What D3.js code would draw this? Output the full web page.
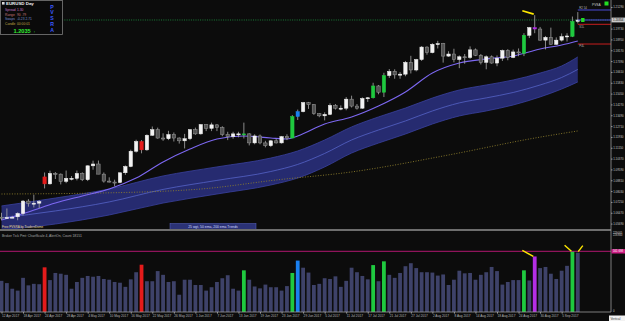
<!DOCTYPE html>
<html>
<head>
<meta charset="utf-8">
<script src="https://cdn.jsdelivr.net/npm/d3@7"></script>
<style>
  body { margin: 0; background: #0c0c0c; }
  svg { display: block; font-family: "Liberation Sans", Arial, sans-serif; }
</style>
</head>
<body>
<script>
// EURUSD Day, 12 Apr 2017 - 8 Sep 2017 (108 bars)
var opens = [1.0615,1.0613,1.0613,1.0618,1.0642,1.0731,1.0715,1.0716,1.0905,1.0855,
  1.0930,1.0925,1.0873,1.0895,1.0895,1.0930,1.0885,1.0985,1.0998,1.0925,
  1.0875,1.0868,1.0865,1.0935,1.0980,1.1090,1.1160,1.1100,1.1205,1.1245,
  1.1185,1.1180,1.1210,1.1185,1.1165,1.1180,1.1245,1.1215,1.1282,1.1255,
  1.1280,1.1260,1.1210,1.1195,1.1215,1.1208,1.1215,1.1150,1.1200,1.1150,
  1.1130,1.1165,1.1150,1.1195,1.1185,1.1340,1.1375,1.1440,1.1425,1.1360,
  1.1345,1.1355,1.1420,1.1400,1.1400,1.1465,1.1415,1.1400,1.1470,1.1475,
  1.1560,1.1515,1.1635,1.1665,1.1640,1.1645,1.1730,1.1675,1.1750,1.1840,
  1.1800,1.1860,1.1865,1.1775,1.1790,1.1750,1.1770,1.1765,1.1820,1.1780,
  1.1730,1.1770,1.1725,1.1760,1.1815,1.1765,1.1805,1.1795,1.1925,1.1980,
  1.1970,1.1890,1.1910,1.1860,1.1890,1.1915,1.1917,1.2025];
var highs = [1.0647,1.0678,1.0625,1.0650,1.0738,1.0745,1.0777,1.0738,1.0937,1.0950,
  1.0940,1.0930,1.0951,1.0911,1.0951,1.0938,1.0988,1.1022,1.1023,1.0937,
  1.0902,1.0885,1.0934,1.0988,1.1101,1.1173,1.1170,1.1212,1.1268,1.1260,
  1.1219,1.1237,1.1225,1.1190,1.1215,1.1250,1.1260,1.1285,1.1284,1.1296,
  1.1285,1.1270,1.1230,1.1230,1.1230,1.1296,1.1220,1.1212,1.1210,1.1165,
  1.1170,1.1180,1.1200,1.1212,1.1350,1.1390,1.1445,1.1445,1.1430,1.1365,
  1.1370,1.1435,1.1430,1.1420,1.1480,1.1490,1.1430,1.1478,1.1480,1.1583,
  1.1567,1.1655,1.1682,1.1680,1.1660,1.1740,1.1777,1.1755,1.1847,1.1845,
  1.1868,1.1885,1.1870,1.1810,1.1828,1.1780,1.1790,1.1845,1.1830,1.1790,
  1.1780,1.1780,1.1780,1.1822,1.1825,1.1822,1.1830,1.1940,1.1985,1.2070,
  1.1985,1.1920,1.1980,1.1910,1.1938,1.1940,1.2060,1.2092];
var lows = [1.0593,1.0603,1.0608,1.0593,1.0628,1.0691,1.0685,1.0680,1.0822,1.0850,
  1.0890,1.0851,1.0860,1.0880,1.0880,1.0875,1.0875,1.0957,1.0925,1.0864,
  1.0865,1.0838,1.0860,1.0920,1.0975,1.1080,1.1075,1.1093,1.1200,1.1180,
  1.1165,1.1170,1.1160,1.1145,1.1110,1.1170,1.1208,1.1210,1.1235,1.1235,
  1.1235,1.1198,1.1170,1.1180,1.1190,1.1182,1.1132,1.1140,1.1140,1.1118,
  1.1120,1.1145,1.1145,1.1170,1.1185,1.1315,1.1370,1.1395,1.1352,1.1335,
  1.1312,1.1350,1.1390,1.1385,1.1385,1.1405,1.1390,1.1395,1.1445,1.1470,
  1.1500,1.1480,1.1618,1.1612,1.1612,1.1630,1.1650,1.1665,1.1740,1.1785,
  1.1795,1.1830,1.1728,1.1770,1.1730,1.1688,1.1720,1.1755,1.1775,1.1715,
  1.1680,1.1720,1.1702,1.1740,1.1745,1.1760,1.1774,1.1775,1.1905,1.1940,
  1.1885,1.1823,1.1857,1.1855,1.1880,1.1880,1.1912,1.2010];
var closes = [1.0613,1.0613,1.0615,1.0642,1.0731,1.0715,1.0716,1.0727,1.0855,1.0930,
  1.0925,1.0873,1.0895,1.0895,1.0930,1.0885,1.0985,1.0998,1.0925,1.0875,
  1.0868,1.0865,1.0935,1.0980,1.1090,1.1160,1.1100,1.1205,1.1245,1.1185,
  1.1180,1.1210,1.1185,1.1165,1.1180,1.1245,1.1215,1.1282,1.1255,1.1280,
  1.1260,1.1210,1.1195,1.1215,1.1215,1.1215,1.1150,1.1200,1.1150,1.1130,
  1.1165,1.1150,1.1195,1.1185,1.1340,1.1375,1.1440,1.1425,1.1360,1.1345,
  1.1355,1.1420,1.1400,1.1400,1.1465,1.1415,1.1400,1.1470,1.1475,1.1560,
  1.1515,1.1635,1.1665,1.1640,1.1645,1.1730,1.1675,1.1750,1.1840,1.1800,
  1.1860,1.1865,1.1775,1.1790,1.1750,1.1770,1.1765,1.1820,1.1780,1.1730,
  1.1770,1.1725,1.1760,1.1815,1.1765,1.1805,1.1800,1.1925,1.1980,1.1970,
  1.1890,1.1910,1.1860,1.1890,1.1915,1.1920,1.2025,1.2035];

// tick volume, thousands
var volumes = [83,77,62,57,91,71,75,74,119,85,
  104,102,99,62,80,91,96,94,96,88,
  86,80,78,67,87,106,126,82,82,109,
  99,80,82,46,86,86,72,72,57,66,
  80,90,98,62,57,111,86,68,63,73,
  66,66,57,69,104,137,118,105,72,75,
  90,88,95,67,83,118,106,96,87,125,
  82,135,99,91,104,122,130,117,106,106,
  105,97,100,72,86,110,103,104,86,99,
  106,120,109,73,80,85,85,111,84,148,
  117,120,102,88,110,123,162,158];

// PVSRA coloured bars (index -> colour)
var pvsraIdx = [8, 26, 45, 54, 55, 69, 71, 97, 99, 106];
var pvsraCol = ["#e41b1b","#e41b1b","#1fc93f","#1fc93f","#1a80f0","#1fc93f","#1fc93f","#1fc93f","#b42ee6","#1fc93f"];

// 25 wgt line, sampled
var maIdx = [0,5,10,15,20,25,30,35,40,45,50,53,55,60,65,70,75,80,85,90,95,100,104,107];
var maVal = [1.0595,1.0653,1.0717,1.0768,1.0818,1.0897,1.1013,1.1106,1.1178,1.1200,1.1185,1.1178,1.1200,
  1.1286,1.1337,1.1416,1.1517,1.1653,1.1725,1.1754,1.1776,1.1826,1.1855,1.1884];

// trend band (50 ema zone), sampled
var bandIdx = [0,10,20,30,40,50,55,60,65,70,75,80,85,90,95,100,104,107];
var bandTop = [1.0696,1.0753,1.0818,1.0912,1.0977,1.1041,1.1092,1.1171,1.1265,1.1337,1.1401,1.1473,1.1531,1.1567,1.1603,1.1653,1.1704,1.1769];
var bandBot = [1.0523,1.0566,1.0631,1.0717,1.0782,1.0847,1.0897,1.0977,1.1077,1.1149,1.1214,1.1286,1.1344,1.1380,1.1423,1.1481,1.1538,1.1589];
var bandMid = [1.0610,1.0660,1.0725,1.0815,1.0880,1.0944,1.0995,1.1074,1.1171,1.1243,1.1308,1.1380,1.1438,1.1474,1.1513,1.1567,1.1621,1.1679];

// 200 ema, sampled
var emaIdx = [0,18,37,51,65,83,99,107];
var emaVal = [1.0782,1.0789,1.0818,1.0883,1.0941,1.1063,1.1185,1.1236];

// 1.20510 sits under the current-price box, so it is left out
var priceTicks = [1.21290,1.19730,1.18950,1.18170,1.17390,1.16610,1.15830,1.15050,1.14270,
  1.13490,1.12710,1.11930,1.11150,1.10370,1.09590,1.08810,1.08030,1.07250,1.06470,1.05690];
var dateIdx = [0,4,8,12,16,20,24,28,32,36,40,44,48,52,56,60,64,68,72,76,80,84,88,92,96,100,104];
var dateLabels = ["12 Apr 2017","18 Apr 2017","24 Apr 2017","28 Apr 2017","4 May 2017","10 May 2017",
  "16 May 2017","22 May 2017","26 May 2017","1 Jun 2017","7 Jun 2017","13 Jun 2017","19 Jun 2017",
  "23 Jun 2017","29 Jun 2017","5 Jul 2017","11 Jul 2017","17 Jul 2017","21 Jul 2017","27 Jul 2017",
  "2 Aug 2017","8 Aug 2017","14 Aug 2017","18 Aug 2017","24 Aug 2017","30 Aug 2017","5 Sep 2017"];

var pivotVals = [1.2107, 1.2035, 1.2004, 1.1862];
var pivotCols = ["#4b4bd6", "#4b4bd6", "#c81e1e", "#c81e1e"];
var pivotLabels = ["R2 54", "", "S1L", "P4L"];
var lastPrice = 1.2035;
var volAlert = 161.698;

var W = 625, H = 321, plotR = 611, mainB = 229, volT = 231, volB = 312;

var svg = d3.select("body").append("svg").attr("width", W).attr("height", H);
svg.append("rect").attr("width", W).attr("height", H).attr("fill", "#0c0c0c");

var x = d3.scaleLinear().domain([0, 107]).range([1.5, 577.8]);
var y = d3.scaleLinear().domain([1.0530, 1.2179]).range([mainB, 0]);
var yv = d3.scaleLinear().domain([0, 215.8]).range([volB, volT]);

svg.append("clipPath").attr("id", "mainclip")
  .append("rect").attr("x", 0).attr("y", 0).attr("width", plotR).attr("height", mainB);
var main = svg.append("g").attr("clip-path", "url(#mainclip)");

// trend band
var band = bandIdx.map(function(d, i) { return {i: d, t: bandTop[i], b: bandBot[i], m: bandMid[i]}; });
main.append("path").datum(band)
  .attr("d", d3.area().x(function(d) { return x(d.i); }).y0(function(d) { return y(d.b); }).y1(function(d) { return y(d.t); }).curve(d3.curveMonotoneX))
  .attr("fill", "#262b70");
["t", "b"].forEach(function(k) {
  main.append("path").datum(band)
    .attr("d", d3.line().x(function(d) { return x(d.i); }).y(function(d) { return y(d[k]); }).curve(d3.curveMonotoneX))
    .attr("fill", "none").attr("stroke", "#3a41a0").attr("stroke-width", 0.8);
});
main.append("path").datum(band)
  .attr("d", d3.line().x(function(d) { return x(d.i); }).y(function(d) { return y(d.m); }).curve(d3.curveMonotoneX))
  .attr("fill", "none").attr("stroke", "#5563c8").attr("stroke-width", 0.8);

// 200 ema dotted
main.append("path").datum(emaIdx.map(function(d, i) { return [d, emaVal[i]]; }))
  .attr("d", d3.line().x(function(d) { return x(d[0]); }).y(function(d) { return y(d[1]); }).curve(d3.curveMonotoneX))
  .attr("fill", "none").attr("stroke", "#8e7f2c").attr("stroke-width", 0.9).attr("stroke-dasharray", "1,1.6");

// 25 wgt line
main.append("path").datum(maIdx.map(function(d, i) { return [d, maVal[i]]; }))
  .attr("d", d3.line().x(function(d) { return x(d[0]); }).y(function(d) { return y(d[1]); }).curve(d3.curveMonotoneX))
  .attr("fill", "none").attr("stroke", "#7d68f2").attr("stroke-width", 1.1);

// last price dotted line
main.append("line").attr("x1", 0).attr("x2", plotR).attr("y1", y(lastPrice)).attr("y2", y(lastPrice))
  .attr("stroke", "#1d8a3c").attr("stroke-width", 0.9).attr("stroke-dasharray", "1,1.3");

// candles
var bw = 3.4;
var bars = d3.range(opens.length).map(function(i) {
  var k = pvsraIdx.indexOf(i);
  return {i: i, o: opens[i], h: highs[i], l: lows[i], c: closes[i], v: volumes[i], col: k >= 0 ? pvsraCol[k] : null};
});
var cg = main.selectAll("g.candle").data(bars).enter().append("g").attr("class", "candle");
cg.append("line")
  .attr("x1", function(d) { return x(d.i); }).attr("x2", function(d) { return x(d.i); })
  .attr("y1", function(d) { return y(d.h); }).attr("y2", function(d) { return y(d.l); })
  .attr("stroke", "#aaaaaa").attr("stroke-width", 0.8);
cg.append("rect")
  .attr("x", function(d) { return x(d.i) - bw / 2; })
  .attr("width", bw)
  .attr("y", function(d) { return y(Math.max(d.o, d.c)); })
  .attr("height", function(d) { return Math.max(1, Math.abs(y(d.o) - y(d.c))); })
  .attr("fill", function(d) { return d.col ? d.col : (d.c >= d.o ? "#f2f2f2" : "#525252"); })
  .attr("stroke", function(d) { return d.col ? d.col : (d.c >= d.o ? "#f2f2f2" : "#9c9c9c"); })
  .attr("stroke-width", 0.5);

// climax marker on price
var mk = bars[99];
main.append("line").attr("x1", x(mk.i) - 12.4).attr("y1", y(mk.h) - 4.4)
  .attr("x2", x(mk.i) - 1).attr("y2", y(mk.h) - 1)
  .attr("stroke", "#ffe800").attr("stroke-width", 1.6);

// pivot lines at right
pivotVals.forEach(function(p, i) {
  svg.append("line").attr("x1", x(107)).attr("x2", plotR).attr("y1", y(p)).attr("y2", y(p))
    .attr("stroke", pivotCols[i]).attr("stroke-width", 1);
  if (pivotLabels[i]) {
    svg.append("text").attr("x", x(107) + 1.5).attr("y", y(p) + (i == 0 ? -1 : 3.2))
      .attr("font-size", 2.8).attr("fill", "#b8b8b8").text(pivotLabels[i]);
  }
});
svg.append("rect").attr("x", x(107) + 3.3).attr("y", y(lastPrice) - 2).attr("width", 3.4).attr("height", 4)
  .attr("fill", "#22dd22");

// PVSA label top right
svg.append("text").attr("x", 592).attr("y", 5.5).attr("font-size", 3.2).attr("fill", "#cfcfcf").text("PVSA");
svg.append("rect").attr("x", 604.5).attr("y", 1.5).attr("width", 4).attr("height", 4).attr("fill", "#22dd22");

// info box
var info = svg.append("g");
info.append("rect").attr("x", 0.5).attr("y", 0.5).attr("width", 62).attr("height", 34)
  .attr("fill", "#0a0a0a").attr("stroke", "#7c7c7c").attr("stroke-width", 0.8);
info.append("rect").attr("x", 2).attr("y", 2).attr("width", 2.6).attr("height", 2.6).attr("fill", "#d8d8d8");
info.append("text").attr("x", 6).attr("y", 5.4).attr("font-size", 4.4).attr("font-weight", "bold")
  .attr("fill", "#f0f0f0").text("EURUSD  Day");
var rows = [["Spread", "1.30", "#c878c8", 11], ["Range", "90   .79", "#c87878", 15.5],
  ["Swaps", "-0.23  2.71", "#7890d0", 20], ["Candle", "00:00:01", "#c0a844", 24.5]];
rows.forEach(function(r) {
  info.append("text").attr("x", 5).attr("y", r[3]).attr("font-size", 3.3).attr("fill", r[2]).text(r[0]);
  info.append("text").attr("x", 17).attr("y", r[3]).attr("font-size", 3.3).attr("fill", r[2]).text(r[1]);
});
info.append("text").attr("x", 13.5).attr("y", 33).attr("font-size", 5.6).attr("font-weight", "bold")
  .attr("fill", "#33ee33").text("1.2035");
info.append("text").attr("x", 33.5).attr("y", 32.5).attr("font-size", 3.6).attr("fill", "#33ee33").text("↑");
"PVSRA".split("").forEach(function(ch, i) {
  info.append("text").attr("x", 52).attr("y", 8.5 + i * 5.8).attr("font-size", 5.2).attr("font-weight", "bold")
    .attr("text-anchor", "middle").attr("fill", "#3b5bff").text(ch);
});

// bottom-of-pane texts
svg.append("text").attr("x", 2).attr("y", 227.5).attr("font-size", 3.1).attr("fill", "#e6dc9a").text("Free PVSRA by TradersDome");
svg.append("rect").attr("x", 170).attr("y", 223.5).attr("width", 86).attr("height", 6.5)
  .attr("fill", "#2b3276").attr("stroke", "#5a66c4").attr("stroke-width", 0.5);
svg.append("text").attr("x", 213).attr("y", 228.2).attr("font-size", 3.4).attr("text-anchor", "middle")
  .attr("fill", "#d4d8ff").text("25 wgt, 50 ema, 200 ema Trends");

// pane separator
svg.append("rect").attr("x", 0).attr("y", mainB).attr("width", plotR).attr("height", 2).attr("fill", "#6e6e6e");

// volume pane
svg.append("text").attr("x", 2).attr("y", 236.5).attr("font-size", 3.4).attr("fill", "#a8a8a8")
  .text("Broker Tick Pmt:  ChartScale 4, AlertOn, Count 18151");
svg.selectAll("rect.vol").data(bars).enter().append("rect").attr("class", "vol")
  .attr("x", function(d) { return x(d.i) - 1.9; })
  .attr("width", 3.8)
  .attr("y", function(d) { return yv(d.v); })
  .attr("height", function(d) { return yv(0) - yv(d.v); })
  .attr("fill", function(d) { return d.col ? d.col : "#3e4269"; });
svg.append("line").attr("x1", 0).attr("x2", plotR).attr("y1", yv(volAlert)).attr("y2", yv(volAlert))
  .attr("stroke", "#c4187c").attr("stroke-width", 0.9);

// climax markers on volume
var vm = [[99, -12.4, -6, -1.4, 0], [106, -7.8, -6, -1, 0], [107, 5, -7, 0.4, -1]];
vm.forEach(function(m) {
  var b = bars[m[0]];
  svg.append("line").attr("x1", x(b.i) + m[1]).attr("y1", yv(b.v) + m[2])
    .attr("x2", x(b.i) + m[3]).attr("y2", yv(b.v) + m[4])
    .attr("stroke", "#ffe800").attr("stroke-width", 1.4);
});

// axes
svg.append("line").attr("x1", plotR).attr("x2", plotR).attr("y1", 0).attr("y2", volB)
  .attr("stroke", "#9a9a9a").attr("stroke-width", 0.8);
svg.append("line").attr("x1", 0).attr("x2", plotR).attr("y1", volB).attr("y2", volB)
  .attr("stroke", "#9a9a9a").attr("stroke-width", 0.8);

var yAxis = svg.append("g").attr("transform", "translate(" + plotR + ",0)")
  .call(d3.axisRight(y).tickValues(priceTicks).tickSize(1.5).tickFormat(d3.format(".5f")));
yAxis.select(".domain").remove();
yAxis.selectAll("line").attr("stroke", "#9a9a9a");
yAxis.selectAll("text").attr("font-size", 2.9).attr("fill", "#c4c4c4").attr("x", 2.2).attr("dy", "0.35em");

// current price box
svg.append("rect").attr("x", plotR + 0.5).attr("y", y(lastPrice) - 2.4).attr("width", 13.5).attr("height", 4.8).attr("fill", "#c8c8c8");
svg.append("text").attr("x", plotR + 2).attr("y", y(lastPrice) + 1.1).attr("font-size", 2.9).attr("fill", "#111").text("1.20354");

// volume axis labels
svg.append("text").attr("x", plotR + 2).attr("y", 233.5).attr("font-size", 2.8).attr("fill", "#c4c4c4").text("229005");
svg.append("text").attr("x", plotR + 2).attr("y", 236.3).attr("font-size", 2.8).attr("fill", "#c4c4c4").text("226900");
svg.append("rect").attr("x", plotR + 0.5).attr("y", yv(volAlert) - 2.2).attr("width", 13.5).attr("height", 4.4).attr("fill", "#d01f86");
svg.append("text").attr("x", plotR + 2).attr("y", yv(volAlert) + 1).attr("font-size", 2.8).attr("fill", "#ffffff").text("161 698");
svg.append("text").attr("x", plotR + 2).attr("y", volB - 0.5).attr("font-size", 2.8).attr("fill", "#c4c4c4").text("0");

// date axis
var xAxis = svg.append("g").attr("transform", "translate(0," + volB + ")")
  .call(d3.axisBottom(x).tickValues(dateIdx).tickSize(1.6)
    .tickFormat(function(d) { return dateLabels[dateIdx.indexOf(d)]; }));
xAxis.select(".domain").remove();
xAxis.selectAll("line").attr("stroke", "#9a9a9a");
xAxis.selectAll("text").attr("font-size", 3.2).attr("fill", "#b8b8b8").attr("text-anchor", "start")
  .attr("x", 0).attr("y", 3).attr("dy", "0.71em");

svg.append("rect").attr("x", 609).attr("y", 315.5).attr("width", 16).attr("height", 5.5).attr("fill", "#f2f2f2");
svg.append("text").attr("x", 610.5).attr("y", 319.6).attr("font-size", 3).attr("fill", "#333").text("Vertical");
</script>
</body>
</html>
